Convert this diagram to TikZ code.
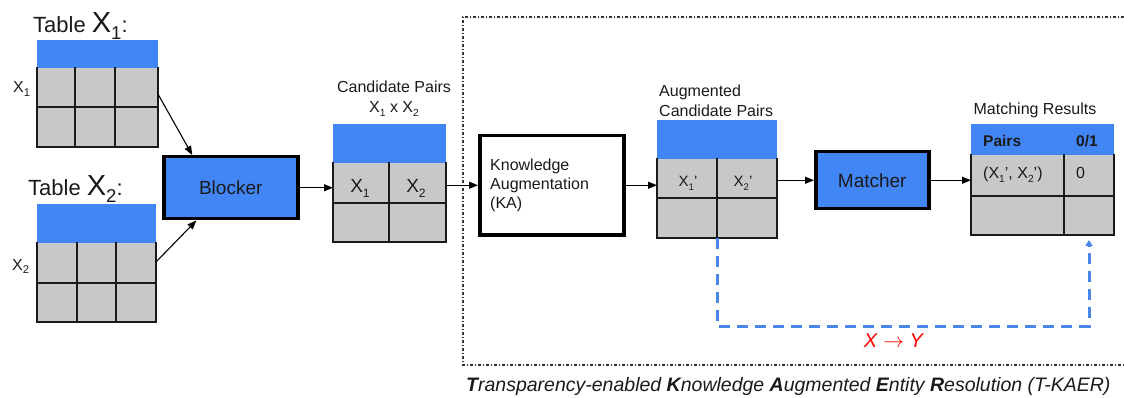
\documentclass[tikz,border=0pt]{standalone}
\usepackage{fontspec}
\setmainfont{Liberation Sans}
\usetikzlibrary{arrows.meta,calc}
\definecolor{gblue}{HTML}{4285F4}
\definecolor{cellgray}{HTML}{C8C8C8}
\definecolor{gridline}{HTML}{1A1A1A}
\definecolor{dblue}{HTML}{4A86E8}
\definecolor{txt}{HTML}{1A1A1A}
\newcommand\lowsub[2][0.64]{\raisebox{-0.24em}{\scalebox{#1}{#2}}}
\begin{document}
\begin{tikzpicture}[x=1pt,y=-1pt,
  hdr/.style={fill=gblue, draw=none, inner sep=0, outer sep=0, anchor=north west},
  body/.style={fill=cellgray, draw=none, inner sep=0, outer sep=0, anchor=north west},
  gridl/.style={draw=gridline, line width=1.8pt, line cap=rect},
  proc/.style={draw=black, line width=3.5pt, inner sep=0, outer sep=1.75pt, anchor=north west},
  flow/.style={-{Triangle[length=9pt,width=7pt]}, line width=1.1pt, black},
  fb/.style={dblue, line width=3pt, dash pattern=on 11pt off 7pt, -{Triangle[length=6pt,width=7pt]}},
  frm/.style={line width=1.1pt, dash pattern=on 3pt off 2pt on 1pt off 2pt, black!80},
  lab/.style={inner sep=0, text=txt, font=\fontsize{16}{20}\selectfont},
  cell/.style={inner sep=0, text=txt}
]
\useasboundingbox (0,0) rectangle (1124,398);

% outer dash-dot frame
\draw[frm] (1140,17) -- (463,17) -- (463,365) -- (1140,365);

% ---------- Table X1 ----------
\node[lab, anchor=base west] (t1title) at (33,33) {\fontsize{22}{26}\selectfont Table {\fontsize{29}{30}\selectfont X\lowsub{1}}:};
\node[hdr, minimum width=121pt, minimum height=28pt] (t1h) at (37,40) {};
\node[body, minimum width=121pt, minimum height=79pt] (t1) at (37,68) {};
\draw[gridl] (t1.north west) -- (t1.south west) -- (t1.south east) -- (t1.north east);
\draw[gridl] (75,68) -- (75,147) (115,68) -- (115,147) (37,107) -- (158,107);
\node[lab, anchor=base west] (t1lab) at (13,93) {X\lowsub[0.7]{1}};

% ---------- Table X2 ----------
\node[lab, anchor=base west] (t2title) at (28,196) {\fontsize{22}{26}\selectfont Table {\fontsize{29}{30}\selectfont X\lowsub{2}}:};
\node[hdr, minimum width=119pt, minimum height=39pt] (t2h) at (37,204) {};
\node[body, minimum width=119pt, minimum height=79pt] (t2) at (37,243) {};
\draw[gridl] (t2.north west) -- (t2.south west) -- (t2.south east) -- (t2.north east);
\draw[gridl] (77,243) -- (77,322) (116,243) -- (116,322) (37,283) -- (156,283);
\node[lab, anchor=base west] (t2lab) at (12,270) {X\lowsub[0.7]{2}};

% ---------- Blocker ----------
\node[proc, fill=gblue, minimum width=134pt, minimum height=62pt] (blocker) at (162,155) {};
\node[cell, font=\fontsize{19}{22}\selectfont] (blockertxt) at (blocker.center) {Blocker};

% ---------- Candidate pairs ----------
\node[lab, anchor=base, align=center] (candtitle) at (394,93) {Candidate Pairs};
\node[lab, anchor=base] (candsub) at (394,113) {X\lowsub{1} x X\lowsub{2}};
\node[hdr, minimum width=113pt, minimum height=39pt] (candh) at (333,124) {};
\node[body, minimum width=113pt, minimum height=79pt] (cand) at (333,163) {};
\draw[gridl] (cand.north west) -- (cand.south west) -- (cand.south east) -- (cand.north east);
\draw[gridl] (389,163) -- (389,242) (333,203) -- (446,203);
\node[cell, anchor=base, font=\fontsize{19}{22}\selectfont] (c1) at (360,193) {X\lowsub{1}};
\node[cell, anchor=base, font=\fontsize{19}{22}\selectfont] (c2) at (416,193) {X\lowsub{2}};

% ---------- Knowledge Augmentation ----------
\node[proc, fill=white, minimum width=144pt, minimum height=99pt] (ka) at (478,134) {};
\node[lab, anchor=base west] (ka1) at (490,171) {Knowledge};
\node[lab, anchor=base west] (ka2) at (490,190) {Augmentation};
\node[lab, anchor=base west] (ka3) at (490,209) {(KA)};

% ---------- Augmented candidate pairs ----------
\node[lab, anchor=base west] (augt1) at (659,97) {Augmented};
\node[lab, anchor=base west] (augt2) at (659,117) {Candidate Pairs};
\node[hdr, minimum width=120pt, minimum height=39pt] (augh) at (657,120) {};
\node[body, minimum width=120pt, minimum height=79pt] (aug) at (657,159) {};
\draw[gridl] (aug.north west) -- (aug.south west) -- (aug.south east) -- (aug.north east);
\draw[gridl] (717,159) -- (717,238) (657,198) -- (777,198);
\node[cell, anchor=base, font=\fontsize{15}{18}\selectfont] (a1) at (688,187) {X\lowsub{1}'};
\node[cell, anchor=base, font=\fontsize{15}{18}\selectfont] (a2) at (743,187) {X\lowsub{2}'};

% ---------- Matcher ----------
\node[proc, fill=gblue, minimum width=113pt, minimum height=57pt] (matcher) at (814,150) {};
\node[cell, font=\fontsize{19}{22}\selectfont] (matchertxt) at (matcher.center) {Matcher};

% ---------- Matching results ----------
\node[lab, anchor=base] (restitle) at (1035,115) {Matching Results};
\node[hdr, minimum width=143pt, minimum height=31pt] (resh) at (971,124) {};
\node[body, minimum width=143pt, minimum height=80pt] (res) at (971,155) {};
\draw[gridl] (res.north west) -- (res.south west) -- (res.south east) -- (res.north east);
\draw[gridl] (1064,155) -- (1064,235) (971,196) -- (1114,196);
\node[cell, anchor=base west, font=\fontsize{15.5}{18}\bfseries] (rh1) at (983,147) {Pairs};
\node[cell, anchor=base west, font=\fontsize{15.5}{18}\bfseries] (rh2) at (1076,147) {0/1};
\node[cell, anchor=base west, font=\fontsize{16}{18}\selectfont] (r1) at (983,179) {(X\lowsub{1}', X\lowsub{2}')};
\node[cell, anchor=base west, font=\fontsize{16}{18}\selectfont] (r2) at (1076,179) {0};

% ---------- connectors ----------
\draw[flow] ($(t1.north east)!0.33!(t1.south east)$) -- ($(blocker.north west)!0.22!(blocker.north east)$);
\draw[flow] ($(t2.north east)!0.24!(t2.south east)$) -- ($(blocker.south west)!0.25!(blocker.south east)$);
\draw[flow] (blocker.east) -- (blocker.east -| cand.west);
\draw[flow] (cand.east |- ka.west) -- (ka.west);
\draw[flow] (ka.east) -- (ka.east -| aug.west);
\draw[flow] (aug.east |- matcher.west) -- (matcher.west);
\draw[flow] (matcher.east) -- (matcher.east -| res.west);

% feedback
\coordinate (fbend) at ($(res.south east)+(-25,5)$);
\coordinate (fbbl) at (aug.south |- 0,326);
\coordinate (fbbr) at (fbend |- 0,326);
\draw[fb] (aug.south) -- (fbbl) -- (fbbr) -- (fbend);
\node[cell, text=red, font=\fontsize{20}{22}\selectfont] (xy) at (894,341) {\textit{X} $\rightarrow$ \textit{Y}};

% caption
\node[cell, anchor=base west, font=\fontsize{19.5}{22}\selectfont\itshape] (cap) at (466,391) {\textbf{T}ransparency-enabled \textbf{K}nowledge \textbf{A}ugmented \textbf{E}ntity \textbf{R}esolution (T-KAER)};
\end{tikzpicture}
\end{document}
